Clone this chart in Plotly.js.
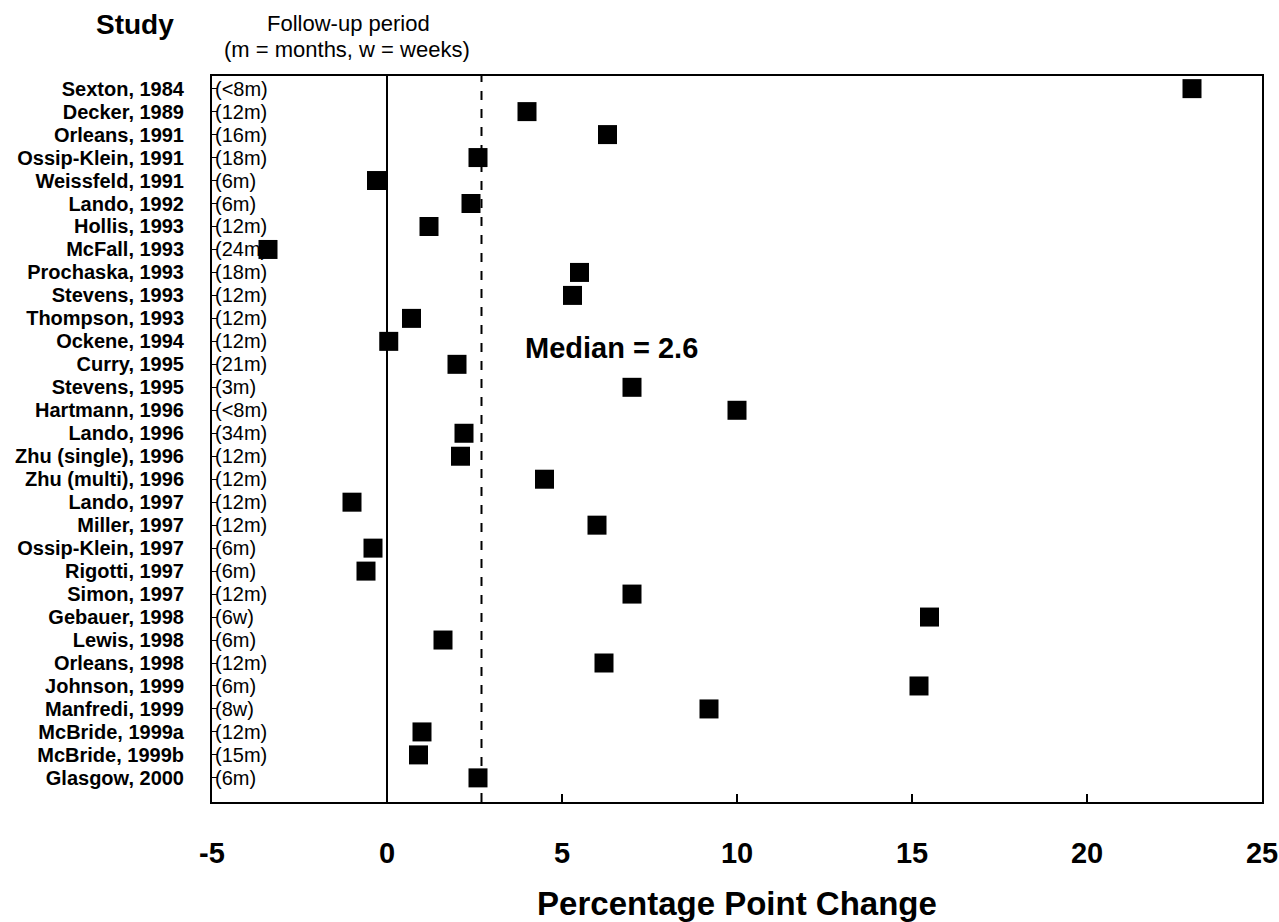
<!DOCTYPE html>
<html>
<head>
<meta charset="utf-8">
<script src="https://cdn.plot.ly/plotly-3.0.1.min.js"></script>
<style>html,body{margin:0;padding:0;background:#fff;}#chart{width:1279px;height:922px;}</style>
</head>
<body>
<div id="chart"></div>
<script>
// ---- data ----
const studies = [
  "Sexton, 1984","Decker, 1989","Orleans, 1991","Ossip-Klein, 1991","Weissfeld, 1991",
  "Lando, 1992","Hollis, 1993","McFall, 1993","Prochaska, 1993","Stevens, 1993",
  "Thompson, 1993","Ockene, 1994","Curry, 1995","Stevens, 1995","Hartmann, 1996",
  "Lando, 1996","Zhu (single), 1996","Zhu (multi), 1996","Lando, 1997","Miller, 1997",
  "Ossip-Klein, 1997","Rigotti, 1997","Simon, 1997","Gebauer, 1998","Lewis, 1998",
  "Orleans, 1998","Johnson, 1999","Manfredi, 1999","McBride, 1999a","McBride, 1999b",
  "Glasgow, 2000"
];
const followUp = [
  "(<8m)","(12m)","(16m)","(18m)","(6m)",
  "(6m)","(12m)","(24m)","(18m)","(12m)",
  "(12m)","(12m)","(21m)","(3m)","(<8m)",
  "(34m)","(12m)","(12m)","(12m)","(12m)",
  "(6m)","(6m)","(12m)","(6w)","(6m)",
  "(12m)","(6m)","(8w)","(12m)","(15m)",
  "(6m)"
];
const changes = [
  23.0, 4.0, 6.3, 2.6, -0.3,
  2.4, 1.2, -3.4, 5.5, 5.3,
  0.7, 0.05, 2.0, 7.0, 10.0,
  2.2, 2.1, 4.5, -1.0, 6.0,
  -0.4, -0.6, 7.0, 15.5, 1.6,
  6.2, 15.2, 9.2, 1.0, 0.9,
  2.6
];
const medianLabel = "Median = 2.6";
const medianLinePos = 2.7;
const xTickVals = [-5, 0, 5, 10, 15, 20, 25];
const xTickText = ["-5", "0", "5", "10", "15", "20", "25"];

// ---- layout helpers ----
const W = 1279, H = 922;
const M = {l: 212, r: 17, t: 76, b: 120};
const plotW = W - M.l - M.r, plotH = H - M.t - M.b;
const px2x = px => (px - M.l) / plotW;
const px2y = py => 1 - (py - M.t) / plotH;
const FONT = '"Liberation Sans", Arial, Helvetica, sans-serif';

const trace = {
  type: 'scatter',
  mode: 'markers',
  x: changes,
  y: studies,
  marker: {symbol: 'square', size: 19, color: '#000', line: {width: 0}},
  hoverinfo: 'x+y',
  showlegend: false
};

const annotations = studies.map((s, i) => ({
  xref: 'paper', yref: 'y', x: 0, y: s,
  text: followUp[i], showarrow: false,
  xanchor: 'left', yanchor: 'middle', xshift: 1,
  font: {family: FONT, size: 20, color: '#000'}
}));

annotations.push(
  {xref: 'paper', yref: 'paper', x: px2x(135), y: px2y(25), text: '<b>Study</b>',
   showarrow: false, xanchor: 'center', yanchor: 'middle',
   font: {family: FONT, size: 28, color: '#000'}},
  {xref: 'paper', yref: 'paper', x: px2x(348), y: px2y(24), text: 'Follow-up period',
   showarrow: false, xanchor: 'center', yanchor: 'middle',
   font: {family: FONT, size: 22, color: '#000'}},
  {xref: 'paper', yref: 'paper', x: px2x(347), y: px2y(49), text: '(m = months, w = weeks)',
   showarrow: false, xanchor: 'center', yanchor: 'middle',
   font: {family: FONT, size: 22, color: '#000'}},
  {xref: 'paper', yref: 'paper', x: px2x(523), y: px2y(348), text: '<b>' + medianLabel + '</b>',
   showarrow: false, xanchor: 'left', yanchor: 'middle',
   font: {family: FONT, size: 29, color: '#000'}}
);

const layout = {
  width: W, height: H,
  margin: M,
  paper_bgcolor: '#fff', plot_bgcolor: '#fff',
  font: {family: FONT, color: '#000'},
  showlegend: false,
  xaxis: {
    range: [-5, 25],
    tickmode: 'array', tickvals: xTickVals, ticktext: xTickText,
    ticks: 'inside', ticklen: 8, tickwidth: 1.5, tickcolor: '#000',
    showgrid: false,
    zeroline: true, zerolinecolor: '#000', zerolinewidth: 1.5,
    showline: true, linecolor: '#000', linewidth: 2, mirror: true,
    tickfont: {family: FONT, size: 29, color: '#000', weight: 'bold'},
    ticklabelstandoff: 24,
    title: {text: '<b>Percentage Point Change</b>', standoff: 26,
            font: {family: FONT, size: 33, color: '#000'}},
    fixedrange: true
  },
  yaxis: {
    type: 'category',
    categoryorder: 'array', categoryarray: studies,
    tickmode: 'array', tickvals: studies, ticktext: studies,
    range: [31.05, -0.55],
    ticks: 'inside', ticklen: 5, tickwidth: 1, tickcolor: '#000',
    showgrid: false, zeroline: false,
    showline: true, linecolor: '#000', linewidth: 2, mirror: true,
    tickfont: {family: FONT, size: 20, color: '#000', weight: 'bold'},
    ticklabelstandoff: 22,
    fixedrange: true
  },
  shapes: [{
    type: 'line', xref: 'x', yref: 'paper',
    x0: medianLinePos, x1: medianLinePos, y0: 0, y1: 1,
    line: {color: '#000', width: 2, dash: 'dash'}
  }],
  annotations: annotations
};

Plotly.newPlot('chart', [trace], layout, {displayModeBar: false, staticPlot: true});
</script>
</body>
</html>
